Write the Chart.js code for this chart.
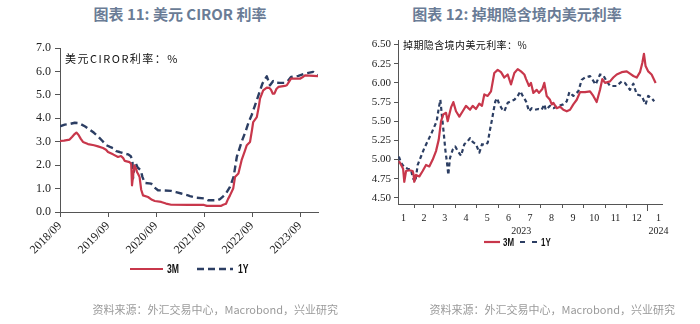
<!DOCTYPE html>
<html>
<head>
<meta charset="utf-8">
<script src="https://cdn.jsdelivr.net/npm/chart.js@4.4.1/dist/chart.umd.min.js"></script>
<style>
  html, body { margin: 0; padding: 0; background: #fff; }
  body { width: 700px; height: 324px; position: relative; overflow: hidden;
         font-family: 'Noto Sans CJK SC', 'Noto Sans', sans-serif; }
  .title { position: absolute; top: 3px; font-size: 15px; font-weight: 700; color: #6a7c96;
           white-space: nowrap; transform: translateX(-50%); line-height: 22px; }
  .caption { position: absolute; font-size: 11px; color: #111; white-space: nowrap; line-height: 14px; }
  .source { position: absolute; top: 302px; font-size: 11px; color: #9a9a9a; white-space: nowrap; line-height: 14px; }
  canvas { position: absolute; top: 0; }
</style>
</head>
<body>
<div class="title" style="left:180px">图表 11: 美元 CIROR 利率</div>
<div class="title" style="left:517px">图表 12: 掉期隐含境内美元利率</div>
<canvas id="ciror" width="345" height="324" style="left:0"></canvas>
<canvas id="swap" width="350" height="324" style="left:350px"></canvas>
<div class="caption" style="left:65px;top:51px;letter-spacing:1.5px">美元CIROR利率：%</div>
<div class="caption" style="left:403px;top:38px;font-size:10px;letter-spacing:0.4px">掉期隐含境内美元利率：%</div>
<div class="source" style="right:362px">资料来源：外汇交易中心，Macrobond，兴业研究</div>
<div class="source" style="right:25px">资料来源：外汇交易中心，Macrobond，兴业研究</div>

<script>
// ---- USD CIROR (x = months elapsed since 2018/09) ----
const cirorTickMonths = [0, 12, 24, 36, 48, 60];
const cirorTickLabels = ['2018/09', '2019/09', '2020/09', '2021/09', '2022/09', '2023/09'];
const ciror3M = [
  [0,3.03],[1,3.05],[2.4,3.09],[3.0,3.2],[3.5,3.3],[4.1,3.39],[4.6,3.3],[5.2,3.12],[5.75,2.99],
  [7,2.9],[8.5,2.85],[9.5,2.80],[10.75,2.73],[11.5,2.66],[12,2.56],[13.25,2.46],[14.5,2.35],
  [15.25,2.39],[15.8,2.3],[16.2,2.18],[17.4,2.13],[17.8,2.05],[18.0,1.14],[18.3,1.6],[18.6,1.99],
  [19.0,1.85],[19.25,1.71],[19.6,1.6],[19.9,1.49],[20.3,0.95],[20.75,0.71],[22,0.64],[23,0.52],
  [23.7,0.47],[25.3,0.43],[26.5,0.36],[27.8,0.31],[32,0.30],[36,0.30],[36.7,0.26],[40.2,0.26],
  [40.8,0.31],[41.5,0.35],[42,0.55],[42.5,0.71],[43.3,1.0],[43.75,1.49],[44.6,1.64],[45.4,2.21],
  [46.2,2.6],[46.7,2.85],[47.5,2.99],[48.0,3.5],[48.3,3.84],[49.2,4.05],[49.7,4.5],[50,4.84],
  [50.8,5.19],[51.7,5.31],[52.3,5.3],[52.75,5.22],[53.2,5.05],[53.6,5.05],[54.1,5.25],[54.6,5.34],
  [56.2,5.38],[56.7,5.41],[57.4,5.6],[57.75,5.69],[60,5.69],[60.6,5.75],[61.25,5.83],[64.5,5.80]
];
const ciror1Y = [
  [0,3.66],[1.2,3.73],[2.5,3.76],[3.7,3.81],[4.5,3.8],[5.3,3.74],[6.3,3.65],[7.4,3.52],[8.5,3.38],
  [9.5,3.23],[10.5,3.05],[11.6,2.85],[12.5,2.78],[13.25,2.73],[14.1,2.6],[14.9,2.56],[16,2.5],
  [17,2.46],[17.7,2.38],[18.1,2.2],[18.25,1.44],[18.6,1.9],[18.9,2.09],[19.4,1.9],[20.2,1.78],
  [20.6,1.5],[21.2,1.24],[22.8,1.21],[23.6,1.05],[24.5,0.93],[27.8,0.90],[29,0.85],[30.3,0.79],
  [32,0.71],[32.5,0.68],[34,0.61],[36,0.58],[37,0.50],[39.3,0.50],[40,0.55],[40.8,0.67],[41.6,0.82],
  [42.5,1.07],[43.4,1.5],[44.2,2.35],[45.4,2.99],[46.5,3.49],[47.2,3.85],[47.9,4.13],[48.75,4.55],
  [49.75,5.05],[50.6,5.48],[51.2,5.65],[51.7,5.79],[52.1,5.6],[52.5,5.41],[53.3,5.59],[54,5.52],
  [55,5.51],[56.25,5.51],[57,5.6],[57.75,5.76],[59.6,5.81],[61.25,5.91],[63.3,5.98],[64.5,5.83]
];

// ---- Swap-implied onshore USD rates (x = days since 2023-01-01) ----
const swapMonthStarts = [0, 31, 59, 90, 120, 151, 181, 212, 243, 273, 304, 334, 365, 396];
const swapMonthLabels = ['1','2','3','4','5','6','7','8','9','10','11','12','1'];
const swapYearLabels = ['2023', '2024'];
const swapYTicks = [4.50, 4.75, 5.00, 5.25, 5.50, 5.75, 6.00, 6.25, 6.50];
const swap3M = [
  [9,4.98],[11,4.95],[13.4,4.91],[15,4.88],[16.7,4.71],[18,4.78],[19.2,4.85],[24,4.86],[28.7,4.85],
  [30,4.8],[31,4.71],[33.5,4.80],[38.3,4.78],[43,4.85],[47.8,4.93],[52.5,4.91],[57.4,5.00],[62.1,5.11],
  [66,5.26],[69.3,5.50],[72.6,5.59],[76.4,5.61],[78.8,5.50],[83.6,5.68],[86.9,5.75],[90.7,5.63],
  [95.5,5.56],[100.3,5.63],[105,5.70],[110.8,5.65],[114.6,5.70],[119.3,5.66],[124,5.73],[127.9,5.70],
  [131.2,5.85],[136.1,5.83],[140.8,5.89],[145.5,6.13],[150.4,6.17],[155.1,6.14],[159.8,6.07],
  [164.7,6.11],[169.4,5.98],[174.2,6.13],[179,6.18],[183.7,6.15],[188.5,6.11],[191,6.05],[193.3,6.00],
  [195.2,5.96],[198,6.00],[201.4,5.87],[206.2,5.91],[209.5,5.87],[214.2,5.92],[217.1,6.00],[220.5,5.83],
  [225.2,5.78],[227.7,5.72],[230,5.74],[234.8,5.67],[239.6,5.69],[244.3,5.65],[249.2,5.63],[253.9,5.65],
  [258.6,5.72],[263.5,5.78],[268.2,5.88],[275.3,5.88],[282.5,5.89],[287.2,5.83],[292,5.75],[296.8,5.91],
  [300.1,6.05],[304,6.00],[311.1,6.02],[315.8,6.07],[320.7,6.11],[327.8,6.14],[335,6.15],[339.7,6.12],
  [344.5,6.09],[349.3,6.07],[354,6.14],[357.3,6.26],[359.7,6.38],[362,6.22],[365.8,6.15],[370.6,6.11],
  [376.4,6.00]
];
const swap1Y = [
  [9,5.04],[12,4.96],[16.7,4.90],[21.6,4.88],[26.3,4.87],[28.8,4.76],[32.5,4.71],[35.9,4.93],[40.6,5.04],
  [45.4,5.15],[50.2,5.24],[55,5.33],[59.7,5.43],[63.1,5.50],[66,5.67],[68.3,5.78],[70.7,5.56],[73.1,5.35],
  [75.4,5.13],[77.8,4.96],[79.7,4.80],[82.1,5.02],[86,5.13],[89.7,5.17],[93.2,5.11],[97.9,5.05],
  [102.6,5.20],[107.5,5.24],[110.8,5.28],[114.6,5.23],[119.3,5.20],[124.1,5.09],[127.9,5.20],[132.7,5.19],
  [136.1,5.22],[139.4,5.39],[142.2,5.52],[144.7,5.65],[147,5.76],[149.4,5.80],[152.7,5.72],[156.6,5.66],
  [159.9,5.63],[164.7,5.74],[169.4,5.76],[174.2,5.78],[179,5.83],[182.8,5.89],[186.2,5.83],[190.9,5.76],
  [195.2,5.63],[199,5.67],[203.8,5.65],[208.5,5.66],[213.3,5.65],[217.1,5.72],[219.1,5.65],[225.2,5.70],
  [230,5.67],[237.1,5.70],[244.3,5.72],[249.2,5.76],[252.9,5.88],[258.6,5.83],[265.7,5.89],[270.6,6.04],
  [275.3,6.07],[282.5,6.09],[290.6,5.98],[296.8,6.11],[301.5,6.10],[306.4,6.02],[311.1,5.96],[320.7,5.96],
  [327.8,6.02],[332.5,6.00],[339.7,5.91],[344.5,5.99],[349.3,5.85],[356.4,5.83],[362,5.72],[365.8,5.83],
  [370.6,5.80],[374.4,5.76]
];

const RED = '#c8374b';
const NAVY = '#2c3e63';
const AXIS = '#555';
const SERIF = "'Liberation Serif', 'Times New Roman', serif";
const toXY = arr => arr.map(([x, y]) => ({ x, y }));

// Draws a simple line-sample legend from the datasets' own stroke styles;
// the label text is squeezed horizontally to give a condensed face.
const lineLegend = {
  id: 'lineLegend',
  afterDraw(chart, args, opts) {
    const ctx = chart.ctx;
    ctx.save();
    chart.data.datasets.forEach((ds, i) => {
      const it = opts.items[i];
      ctx.strokeStyle = ds.borderColor;
      ctx.lineWidth = ds.borderWidth;
      ctx.setLineDash(it.dash || []);
      ctx.beginPath();
      ctx.moveTo(it.x0, opts.y);
      ctx.lineTo(it.x1, opts.y);
      ctx.stroke();
      ctx.setLineDash([]);
      ctx.save();
      ctx.translate(it.tx, opts.y + 0.5);
      ctx.scale(opts.squeeze, 1);
      ctx.fillStyle = '#111';
      ctx.font = opts.font;
      ctx.textBaseline = 'middle';
      ctx.textAlign = 'left';
      ctx.fillText(ds.label, 0, 0);
      ctx.restore();
    });
    ctx.restore();
  }
};

const common = {
  responsive: false,
  animation: false,
  events: [],
  plugins: { legend: { display: false }, tooltip: { enabled: false } },
  elements: { point: { radius: 0 }, line: { tension: 0, borderJoinStyle: 'round' } }
};

// ---- Chart 11 ----
new Chart(document.getElementById('ciror'), {
  type: 'line',
  data: {
    datasets: [
      { label: '3M', data: toXY(ciror3M), borderColor: RED, borderWidth: 2.2 },
      { label: '1Y', data: toXY(ciror1Y), borderColor: NAVY, borderWidth: 2.4, borderDash: [7, 4] }
    ]
  },
  options: {
    ...common,
    layout: { padding: { left: 0, top: 48, right: 27, bottom: 0 } },
    scales: {
      x: {
        type: 'linear', min: 0, max: 64.5,
        afterBuildTicks: s => { s.ticks = cirorTickMonths.map(v => ({ value: v })); },
        afterFit: s => { s.height = 112; },
        ticks: {
          callback: (v, i) => cirorTickLabels[i],
          minRotation: 45, maxRotation: 45, autoSkip: false, padding: 2,
          font: { family: SERIF, size: 12 }, color: '#222'
        },
        grid: { drawOnChartArea: false, drawTicks: true, tickLength: 5, tickColor: AXIS },
        border: { color: AXIS, width: 1 }
      },
      y: {
        min: 0, max: 7,
        afterBuildTicks: s => { s.ticks = [0,1,2,3,4,5,6,7].map(v => ({ value: v })); },
        afterFit: s => { s.width = 60; },
        ticks: {
          callback: v => v.toFixed(1), padding: 4,
          font: { family: SERIF, size: 12 }, color: '#222'
        },
        grid: { drawOnChartArea: false, drawTicks: true, tickLength: 5, tickColor: AXIS },
        border: { color: AXIS, width: 1 }
      }
    },
    plugins: {
      ...common.plugins,
      lineLegend: {
        y: 269, squeeze: 0.72, font: "bold 12px 'Liberation Sans', sans-serif",
        items: [ { x0: 130, x1: 163, tx: 167 }, { x0: 197, x1: 233, tx: 238, dash: [7, 4] } ]
      }
    }
  },
  plugins: [lineLegend]
});

// ---- Chart 12 ----
const monthMids = swapMonthLabels.map((_, i) => (swapMonthStarts[i] + swapMonthStarts[i + 1]) / 2);
const labelTicks = monthMids.map((v, i) => ({
  value: v,
  label: i === swapMonthLabels.length - 1 ? [swapMonthLabels[i], swapYearLabels[1]] : swapMonthLabels[i]
}));
labelTicks.push({ value: 184, label: ['', swapYearLabels[0]] });
labelTicks.push({ value: 365, label: '' });
labelTicks.sort((a, b) => a.value - b.value);

new Chart(document.getElementById('swap'), {
  type: 'line',
  data: {
    datasets: [
      { label: '3M', data: toXY(swap3M), borderColor: RED, borderWidth: 2.2 },
      { label: '1Y', data: toXY(swap1Y), borderColor: NAVY, borderWidth: 2.2, borderDash: [4, 3] }
    ]
  },
  options: {
    ...common,
    layout: { padding: { left: 0, top: 40, right: 38, bottom: 0 } },
    scales: {
      x: {
        type: 'linear', position: 'bottom', weight: 0, min: 7.7, max: 385.5,
        afterBuildTicks: s => {
          s.ticks = swapMonthStarts.filter(v => v > 7.7 && v < 385.5).map(v => ({ value: v }));
        },
        afterFit: s => { s.height = 4; },
        ticks: { display: false },
        grid: { drawOnChartArea: false, drawTicks: true, tickLength: 4, tickColor: AXIS },
        border: { color: AXIS, width: 1 }
      },
      xl: {
        type: 'linear', position: 'bottom', weight: 1, min: 7.7, max: 385.5,
        afterBuildTicks: s => { s.ticks = labelTicks.map(t => ({ value: t.value })); },
        afterFit: s => { s.height = 116; },
        ticks: {
          callback: (v, i) => labelTicks[i].label,
          autoSkip: false, minRotation: 0, maxRotation: 0, padding: 1,
          font: { family: SERIF, size: 10, lineHeight: 1.3 }, color: '#222'
        },
        grid: {
          drawOnChartArea: false, drawTicks: true, tickLength: 3,
          tickColor: c => (c.tick && c.tick.value === 365 ? AXIS : 'rgba(0,0,0,0)')
        },
        border: { display: false }
      },
      y: {
        min: 4.42, max: 6.56,
        afterBuildTicks: s => { s.ticks = swapYTicks.map(v => ({ value: v })); },
        afterFit: s => { s.width = 48; },
        ticks: {
          callback: v => v.toFixed(2), padding: 3,
          font: { family: SERIF, size: 11 }, color: '#222'
        },
        grid: { drawOnChartArea: false, drawTicks: true, tickLength: 4, tickColor: AXIS },
        border: { color: AXIS, width: 1 }
      }
    },
    plugins: {
      ...common.plugins,
      lineLegend: {
        y: 242, squeeze: 0.72, font: "bold 11px 'Liberation Sans', sans-serif",
        items: [ { x0: 134, x1: 150, tx: 153 }, { x0: 170, x1: 188, tx: 191, dash: [5, 7] } ]
      }
    }
  },
  plugins: [lineLegend]
});
</script>
</body>
</html>
